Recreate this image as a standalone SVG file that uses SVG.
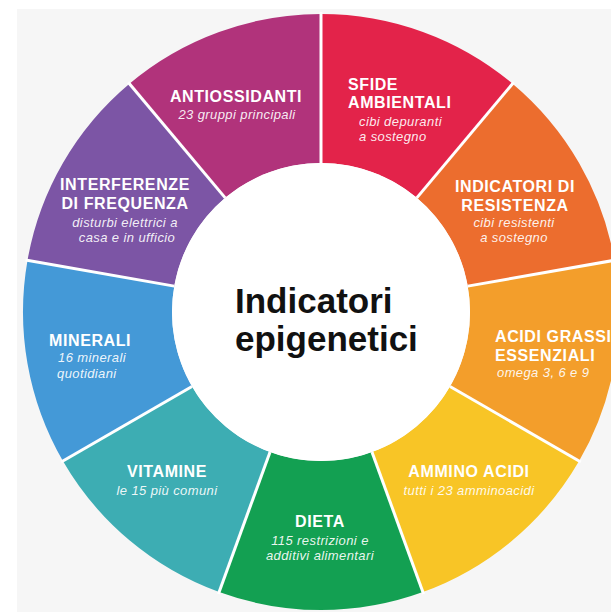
<svg xmlns="http://www.w3.org/2000/svg" width="611" height="612" viewBox="0 0 611 612">
<style>
.h{font-family:"Liberation Sans",Arial,sans-serif;font-weight:bold;font-size:16px;letter-spacing:0.6px;fill:#fff}
.s{font-family:"Liberation Sans",Arial,sans-serif;font-style:italic;font-size:13px;letter-spacing:0.4px;fill:#fff;fill-opacity:0.92}
.m{text-anchor:middle}
.c{font-family:"Liberation Sans",Arial,sans-serif;font-weight:bold;font-size:35px;fill:#111}
.div{stroke:#fff;stroke-width:3;fill:none}
</style>
<rect x="0" y="0" width="611" height="612" fill="#ffffff"/>
<rect x="17" y="9" width="594" height="603" fill="#f6f6f6"/>

<g id="sfide">
<path d="M321,14 A298,298 0 0 1 512.55,83.72 L416.78,197.86 A149,149 0 0 0 321,163 Z" fill="#e3234a"/>
<text class="h" x="348" y="90">SFIDE</text>
<text class="h" x="348" y="108">AMBIENTALI</text>
<text class="s" x="359" y="126">cibi depuranti</text>
<text class="s" x="359" y="141">a sostegno</text>
</g>
<g id="indicatori-resistenza">
<path d="M512.55,83.72 A298,298 0 0 1 614.47,260.25 L467.74,286.13 A149,149 0 0 0 416.78,197.86 Z" fill="#ec6d2e"/>
<text class="h m" x="515" y="192">INDICATORI DI</text>
<text class="h m" x="515" y="211">RESISTENZA</text>
<text class="s m" x="514" y="226.5">cibi resistenti</text>
<text class="s m" x="514" y="241.5">a sostegno</text>
</g>
<g id="acidi-grassi">
<path d="M614.47,260.25 A298,298 0 0 1 579.08,461 L450.04,386.5 A149,149 0 0 0 467.74,286.13 Z" fill="#f39e2b"/>
<text class="h" x="495" y="342">ACIDI GRASSI</text>
<text class="h" x="495" y="361">ESSENZIALI</text>
<text class="s" x="497" y="377">omega 3, 6 e 9</text>
</g>
<g id="ammino-acidi">
<path d="M579.08,461 A298,298 0 0 1 422.92,592.03 L371.96,452.01 A149,149 0 0 0 450.04,386.5 Z" fill="#f8c526"/>
<text class="h m" x="469" y="477">AMMINO ACIDI</text>
<text class="s m" x="469" y="495">tutti i 23 amminoacidi</text>
</g>
<g id="dieta">
<path d="M422.92,592.03 A298,298 0 0 1 219.08,592.03 L270.04,452.01 A149,149 0 0 0 371.96,452.01 Z" fill="#13a052"/>
<text class="h m" x="320" y="527">DIETA</text>
<text class="s m" x="320" y="545">115 restrizioni e</text>
<text class="s m" x="320" y="560">additivi alimentari</text>
</g>
<g id="vitamine">
<path d="M219.08,592.03 A298,298 0 0 1 62.92,461 L191.96,386.5 A149,149 0 0 0 270.04,452.01 Z" fill="#3dadb3"/>
<text class="h m" x="167" y="477">VITAMINE</text>
<text class="s m" x="167" y="495">le 15 più comuni</text>
</g>
<g id="minerali">
<path d="M62.92,461 A298,298 0 0 1 27.53,260.25 L174.26,286.13 A149,149 0 0 0 191.96,386.5 Z" fill="#4499d7"/>
<text class="h" x="49" y="346">MINERALI</text>
<text class="s" x="58" y="362">16 minerali</text>
<text class="s" x="57" y="378">quotidiani</text>
</g>
<g id="interferenze">
<path d="M27.53,260.25 A298,298 0 0 1 129.45,83.72 L225.22,197.86 A149,149 0 0 0 174.26,286.13 Z" fill="#7c55a5"/>
<text class="h m" x="125" y="190">INTERFERENZE</text>
<text class="h m" x="125" y="209">DI FREQUENZA</text>
<text class="s m" x="125" y="227">disturbi elettrici a</text>
<text class="s m" x="127" y="242">casa e in ufficio</text>
</g>
<g id="antiossidanti">
<path d="M129.45,83.72 A298,298 0 0 1 321,14 L321,163 A149,149 0 0 0 225.22,197.86 Z" fill="#b1337b"/>
<text class="h m" x="236" y="102">ANTIOSSIDANTI</text>
<text class="s m" x="237" y="119">23 gruppi principali</text>
</g>

<g id="dividers" class="div">
<line x1="321" y1="163" x2="321" y2="12"/>
<line x1="416.78" y1="197.86" x2="513.83" y2="82.19"/>
<line x1="467.74" y1="286.13" x2="616.44" y2="259.91"/>
<line x1="450.04" y1="386.5" x2="580.81" y2="462"/>
<line x1="371.96" y1="452.01" x2="423.6" y2="593.9"/>
<line x1="270.04" y1="452.01" x2="218.4" y2="593.9"/>
<line x1="191.96" y1="386.5" x2="61.19" y2="462"/>
<line x1="174.26" y1="286.13" x2="25.56" y2="259.91"/>
<line x1="225.22" y1="197.86" x2="128.17" y2="82.19"/>
</g>

<g id="centro">
<circle cx="321" cy="312" r="149" fill="#ffffff"/>
<text class="c" x="235" y="313">Indicatori</text>
<text class="c" x="235" y="351">epigenetici</text>
</g>
</svg>
